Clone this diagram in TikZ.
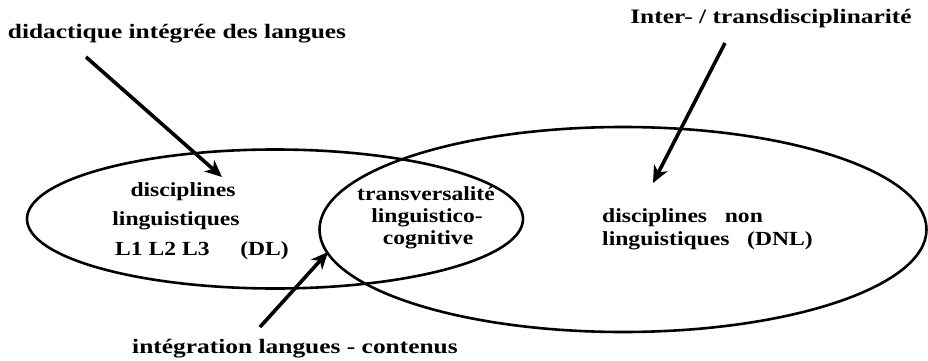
\documentclass[tikz,border=0pt]{standalone}
\usepackage{fontspec}
\setmainfont{Liberation Serif}
\usetikzlibrary{arrows.meta}
\tikzset{
  txt/.style={inner sep=0pt, anchor=base, transform shape},
  lab/.style={txt, font=\fontsize{20}{24}\selectfont\bfseries, xscale=1.18},
  outer/.style={txt, font=\fontsize{20.5}{24}\selectfont\bfseries, xscale=1.24},
  ring/.style={draw=black, line width=2.6pt},
  pointer/.style={draw=black, line width=3.6pt, -{Stealth[length=17pt,width=15pt,inset=5pt]}}
}
\begin{document}
\begin{tikzpicture}[x=1pt,y=-1pt]
\useasboundingbox (0,0) rectangle (928,361);
% ellipses
\draw[ring] (275,219) ellipse [x radius=248, y radius=69.5];
\draw[ring] (623,229.5) ellipse [x radius=303.5, y radius=102.5];
% outer labels
\node[outer] (tl) at (177,38) {didactique intégrée des langues};
\node[outer] (tr) at (771,24) {Inter- / transdisciplinarité};
\node[outer] (bt) at (295,353) {intégration langues - contenus};
% left ellipse text
\node[lab] (dl1) at (183,196) {disciplines};
\node[lab] (dl2) at (176,225) {linguistiques};
\node[lab] (dl3) at (202,255) {L1 L2 L3\hspace{1.3em}(DL)};
% middle text
\node[lab] (tv1) at (426,200) {transversalité};
\node[lab] (tv2) at (427,222) {linguistico-};
\node[lab] (tv3) at (428,244) {cognitive};
% right text
\node[lab, anchor=base west] (dn1) at (602,222) {disciplines\hspace{0.75em}non};
\node[lab, anchor=base west] (dn2) at (602,245) {linguistiques\hspace{0.75em}(DNL)};
% arrow ends
\coordinate (a1s) at (86,57);
\coordinate (a1e) at (222,177);
\coordinate (a2s) at (725,43);
\coordinate (a2e) at (653,183);
\coordinate (a3s) at (260,327);
\coordinate (a3e) at (328,252);
\draw[pointer] (a1s) -- (a1e);
\draw[pointer] (a2s) -- (a2e);
\draw[pointer] (a3s) -- (a3e);
\end{tikzpicture}
\end{document}
